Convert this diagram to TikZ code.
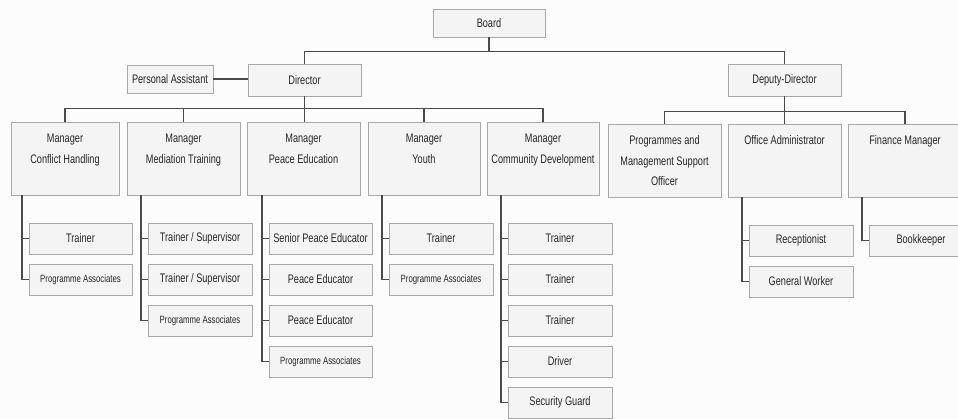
\documentclass[tikz,border=0pt]{standalone}
\usepackage{fontspec}
\setmainfont{Liberation Sans}[FakeStretch=0.74]
\definecolor{bgc}{HTML}{FCFCFC}
\definecolor{boxfill}{HTML}{F4F4F4}
\definecolor{boxline}{HTML}{A8A8A8}
\definecolor{linc}{HTML}{4A4A4A}
\definecolor{txtc}{HTML}{262626}
\newcommand\bx[7][]{\node[box,#1,minimum width={(#5-#3)*0.75pt},minimum height={(#6-#4)*0.75pt}] (#2) at ({(#3+#5)/2},{(#4+#6)/2}) {#7};}
\newcommand\tbx[6]{\node[box] (#1) at ({(#2+#4)/2},{(#3+#5)/2}) {\parbox[c][\dimexpr0.75pt*(#5-#3)\relax][t]{\dimexpr0.75pt*(#4-#2)\relax}{\centering\vspace*{8.2pt}\rule{0pt}{7.4pt}#6}};}
\begin{document}
\begin{tikzpicture}[x=0.75pt,y=-0.75pt,
  box/.style={draw=boxline,fill=boxfill,line width=0.6pt,inner sep=0pt,text=txtc,align=center,font=\fontsize{9.3}{15.4}\selectfont},
  sm/.style={font=\fontsize{7.9}{9}\selectfont},
  conn/.style={draw=linc,line width=1.1pt}]
\useasboundingbox (0,0) rectangle (958,419);
\fill[bgc] (0,0) rectangle (958,419);
\clip (0,0) rectangle (958,419);
% top levels
\bx{board}{433}{9}{545}{37}{Board}
\bx{pa}{127}{65}{213}{93}{Personal Assistant}
\bx{dir}{248}{64}{361}{96}{Director}
\bx{dep}{728}{64}{841}{96}{Deputy-Director}
% managers
\tbx{ch}{11}{122}{119}{195}{Manager\\Conflict Handling}
\tbx{mt}{127}{122}{240}{195}{Manager\\Mediation Training}
\tbx{pe}{247}{122}{360}{195}{Manager\\Peace Education}
\tbx{yo}{368}{122}{480}{195}{Manager\\Youth}
\tbx{cd}{487}{122}{599}{195}{Manager\\Community Development}
\tbx{pm}{608}{124}{721}{197}{Programmes and\\Management Support\\Officer}
\tbx{oa}{728}{124}{841}{197}{Office Administrator}
\tbx{fm}{848}{124}{962}{197}{Finance Manager}
% children
\bx{ch1}{29}{223}{132}{254}{Trainer}
\bx[sm]{ch2}{29}{264}{132}{295}{Programme Associates}
\bx{mt1}{148}{223}{252}{254}{Trainer / Supervisor}
\bx{mt2}{148}{264}{252}{295}{Trainer / Supervisor}
\bx[sm]{mt3}{148}{305}{252}{336}{Programme Associates}
\bx{pe1}{269}{223}{372}{254}{Senior Peace Educator}
\bx{pe2}{269}{264}{372}{295}{Peace Educator}
\bx{pe3}{269}{305}{372}{336}{Peace Educator}
\bx[sm]{pe4}{269}{346}{372}{377}{Programme Associates}
\bx{yo1}{389}{223}{493}{254}{Trainer}
\bx[sm]{yo2}{389}{264}{493}{295}{Programme Associates}
\bx{cd1}{508}{223}{612}{254}{Trainer}
\bx{cd2}{508}{264}{612}{295}{Trainer}
\bx{cd3}{508}{305}{612}{336}{Trainer}
\bx{cd4}{508}{346}{612}{377}{Driver}
\bx{cd5}{508}{387}{612}{418}{Security Guard}
\bx{oa1}{749}{225}{853}{256}{Receptionist}
\bx{oa2}{749}{266}{853}{297}{General Worker}
\bx{fm1}{869}{225}{973}{256}{Bookkeeper}
% vertical branch positions
\coordinate (chv) at (22,0);
\coordinate (mtv) at (141,0);
\coordinate (pev) at (262,0);
\coordinate (yov) at (382,0);
\coordinate (cdv) at (501,0);
\coordinate (oav) at (742,0);
\coordinate (fmv) at (862,0);
% top connectors
\draw[conn] (board.south) -- ++(0,14) -| (dir.north);
\draw[conn] (board.south) ++(0,14) -| (dep.north);
\draw[conn] (pa.east) -- (pa.east -| dir.west);
\draw[conn] (dir.south) -- (dir.south |- pe.north);
\draw[conn] (ch.north) -- ++(0,-13) -| (cd.north);
\draw[conn] (mt.north) -- ++(0,-13);
\draw[conn] (yo.north) -- ++(0,-13);
\draw[conn] (dep.south) -- (dep.south |- oa.north);
\draw[conn] (pm.north) -- ++(0,-12) -| (fm.north);
% branches
\draw[conn] (ch.south -| chv) |- (ch2.west);
\draw[conn] (ch1.west) -- (ch1.west -| chv);
\draw[conn] (mt.south -| mtv) |- (mt3.west);
\draw[conn] (mt1.west) -- (mt1.west -| mtv);
\draw[conn] (mt2.west) -- (mt2.west -| mtv);
\draw[conn] (pe.south -| pev) |- (pe4.west);
\draw[conn] (pe1.west) -- (pe1.west -| pev);
\draw[conn] (pe2.west) -- (pe2.west -| pev);
\draw[conn] (pe3.west) -- (pe3.west -| pev);
\draw[conn] (yo.south -| yov) |- (yo2.west);
\draw[conn] (yo1.west) -- (yo1.west -| yov);
\draw[conn] (cd.south -| cdv) |- (cd5.west);
\draw[conn] (cd1.west) -- (cd1.west -| cdv);
\draw[conn] (cd2.west) -- (cd2.west -| cdv);
\draw[conn] (cd3.west) -- (cd3.west -| cdv);
\draw[conn] (cd4.west) -- (cd4.west -| cdv);
\draw[conn] (oa.south -| oav) |- (oa2.west);
\draw[conn] (oa1.west) -- (oa1.west -| oav);
\draw[conn] (fm.south -| fmv) |- (fm1.west);
\end{tikzpicture}
\end{document}
